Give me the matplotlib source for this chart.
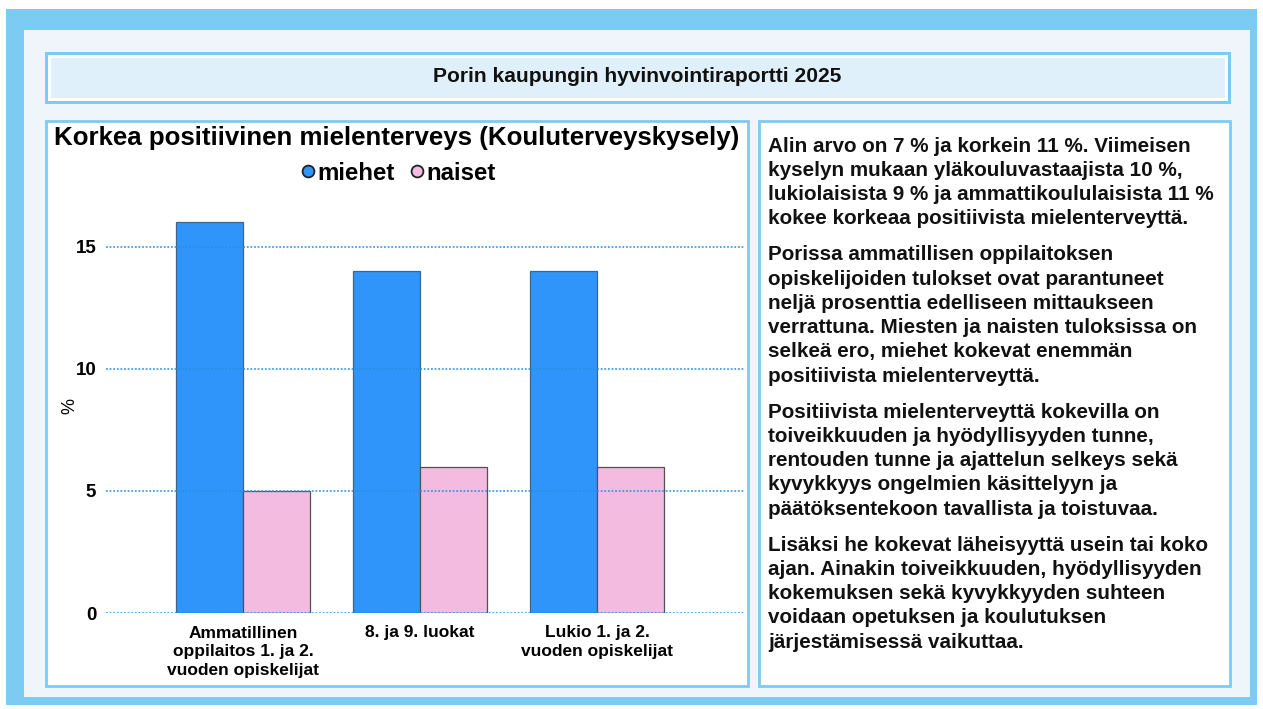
import matplotlib.pyplot as plt
from matplotlib.patches import Rectangle
import numpy as np

W, H = 1263, 709

categories = ["Ammatillinen\noppilaitos 1. ja 2.\nvuoden opiskelijat",
              "8. ja 9. luokat",
              "Lukio 1. ja 2.\nvuoden opiskelijat"]
miehet = [16, 14, 14]
naiset = [5, 6, 6]
series_names = ["miehet", "naiset"]
yticks = [0, 5, 10, 15]

header = "Porin kaupungin hyvinvointiraportti 2025"
chart_title = "Korkea positiivinen mielenterveys (Kouluterveyskysely)"
paragraphs = [
    ["Alin arvo on 7 % ja korkein 11 %. Viimeisen",
     "kyselyn mukaan yläkouluvastaajista 10 %,",
     "lukiolaisista 9 % ja ammattikoululaisista 11 %",
     "kokee korkeaa positiivista mielenterveyttä."],
    ["Porissa ammatillisen oppilaitoksen",
     "opiskelijoiden tulokset ovat parantuneet",
     "neljä prosenttia edelliseen mittaukseen",
     "verrattuna. Miesten ja naisten tuloksissa on",
     "selkeä ero, miehet kokevat enemmän",
     "positiivista mielenterveyttä."],
    ["Positiivista mielenterveyttä kokevilla on",
     "toiveikkuuden ja hyödyllisyyden tunne,",
     "rentouden tunne ja ajattelun selkeys sekä",
     "kyvykkyys ongelmien käsittelyyn ja",
     "päätöksentekoon tavallista ja toistuvaa."],
    ["Lisäksi he kokevat läheisyyttä usein tai koko",
     "ajan. Ainakin toiveikkuuden, hyödyllisyyden",
     "kokemuksen sekä kyvykkyyden suhteen",
     "voidaan opetuksen ja koulutuksen",
     "järjestämisessä vaikuttaa."],
]

BLUE = "#2f95fb"
PINK = "#f2bbdf"
FRAME = "#7ccbf2"
PANEL = "#eef6fb"

plt.rcParams["font.family"] = ["Liberation Sans", "DejaVu Sans"]

fig = plt.figure(figsize=(W / 100, H / 100), dpi=100)
fig.patch.set_facecolor("white")


def box(x0, y0, x1, y1, **kw):
    # pixel coords (top-left origin) -> figure fraction
    r = Rectangle((x0 / W, 1 - y1 / H), (x1 - x0) / W, (y1 - y0) / H,
                  transform=fig.transFigure, **kw)
    fig.add_artist(r)
    return r


def fx(x):
    return x / W


def fy(y):
    return 1 - y / H


# frames
box(6, 9, 1257, 705, facecolor=FRAME, edgecolor="none", zorder=0)
box(24, 30, 1250, 697, facecolor=PANEL, edgecolor="none", zorder=0)
box(45, 52, 1231, 104, facecolor=FRAME, edgecolor="none", zorder=0)
box(48, 55, 1228, 101, facecolor="white", edgecolor="none", zorder=0)
box(51, 58, 1225, 98, facecolor="#dff0fa", edgecolor="none", zorder=0)
box(46, 121, 748, 686, facecolor="white", edgecolor=FRAME, linewidth=2, zorder=0)
box(759, 121, 1230, 686, facecolor="white", edgecolor=FRAME, linewidth=2, zorder=0)

fig.text(fx(637), fy(77), header, ha="center", va="center",
         fontsize=15.1, fontweight="bold", color="#111111")

# chart
ax = fig.add_axes([fx(106), fy(613), (745 - 106) / W, (613 - 198) / H])
ax.set_facecolor("none")
x = np.arange(len(categories))
bw = 0.378
ax.bar(x - bw / 2, miehet, bw, color=BLUE, edgecolor="#3e6688", linewidth=0.9,
       label=series_names[0], zorder=2)
ax.bar(x + bw / 2, naiset, bw, color=PINK, edgecolor="#555055", linewidth=0.9,
       label=series_names[1], zorder=2)
ax.set_xlim(-0.774, 2.836)
ax.set_ylim(0, 17)
ax.set_yticks(yticks)
ax.set_yticklabels([str(v) for v in yticks], fontsize=13.5, fontweight="bold")
ax.set_xticks(x)
ax.set_xticklabels(categories, fontsize=12.5, fontweight="bold", linespacing=1.33)
ax.tick_params(axis="y", length=0, pad=7)
ax.tick_params(axis="x", length=0, pad=9)
for s in ax.spines.values():
    s.set_visible(False)
ax.set_axisbelow(False)
ax.yaxis.grid(True, linestyle=(0, (1, 1)), color="#2a8ee0", alpha=0.85,
              linewidth=1.3, zorder=3)
ax.set_ylabel("%", fontsize=13, labelpad=-2)

fig.text(fx(397), fy(138), chart_title, ha="center", va="center",
         fontsize=18.6, fontweight="bold", color="black")

# legend
fig.legend(handles=[
    plt.Line2D([], [], marker="o", linestyle="none", markersize=8.5,
               markerfacecolor=BLUE, markeredgecolor="#222222", markeredgewidth=1.3,
               label=series_names[0]),
    plt.Line2D([], [], marker="o", linestyle="none", markersize=8.5,
               markerfacecolor=PINK, markeredgecolor="#222222", markeredgewidth=1.3,
               label=series_names[1])],
    loc="center", bbox_to_anchor=(fx(396), fy(173)), ncol=2, frameon=False,
    prop={"size": 17.3, "weight": "bold"}, handletextpad=-0.1, columnspacing=0.4,
    handlelength=1.0)

# text panel, one line at a time
ytop = 146
for p in paragraphs:
    for line in p:
        fig.text(fx(768), fy(ytop), line, ha="left", va="center", fontsize=14.9,
                 fontweight="bold", color="#111111")
        ytop += 24.3
    ytop += 11.5

fig.savefig("out.png", dpi=100)
